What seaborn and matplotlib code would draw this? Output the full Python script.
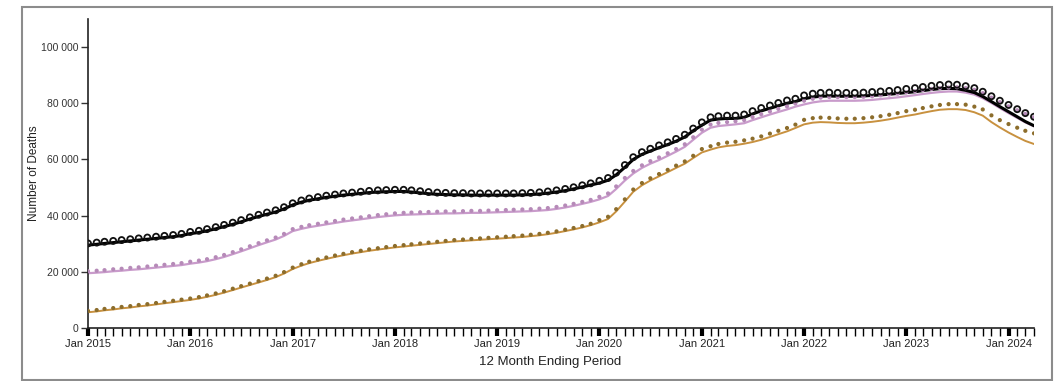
import pandas as pd
import numpy as np
import matplotlib
matplotlib.use('Agg')
import matplotlib.pyplot as plt
import matplotlib.dates as mdates
from matplotlib.patches import Rectangle
from matplotlib.ticker import FuncFormatter
import seaborn as sns

# 12-month ending counts, in thousands, Jan 2015 .. Apr 2024
periods = pd.date_range('2015-01-01', periods=112, freq='MS')

black_reported = [
    29.5, 29.8, 30.1, 30.4, 30.7, 31.0, 31.3, 31.6, 31.9, 32.2, 32.5, 32.9,
    33.6, 34.0, 34.6, 35.3, 36.1, 36.9, 37.8, 38.8, 39.7, 40.5, 41.3, 42.4,
    43.8, 44.8, 45.5, 46.0, 46.5, 46.9, 47.3, 47.6, 47.9, 48.2, 48.4, 48.5,
    48.6, 48.6, 48.4, 48.1, 47.8, 47.6, 47.5, 47.4, 47.4, 47.3, 47.3, 47.3,
    47.3, 47.3, 47.3, 47.4, 47.5, 47.7, 48.0, 48.4, 48.9, 49.5, 50.2, 50.9,
    51.6, 52.6, 54.5, 57.2, 60.0, 61.8, 63.0, 64.2, 65.3, 66.5, 68.0, 70.2,
    72.2, 74.0, 74.4, 74.6, 74.6, 75.0, 76.2, 77.3, 78.2, 79.1, 80.0, 80.6,
    81.6, 82.2, 82.5, 82.6, 82.5, 82.5, 82.5, 82.6, 82.8, 83.0, 83.2, 83.5,
    83.8, 84.1, 84.5, 84.9, 85.2, 85.3, 85.2, 84.6, 83.8, 82.4, 80.6, 78.8,
    77.0, 75.2, 73.5, 72.0,
]
black_predicted = [
    30.1, 30.4, 30.7, 31.0, 31.3, 31.6, 31.9, 32.2, 32.5, 32.8, 33.1, 33.5,
    34.2, 34.6, 35.2, 35.9, 36.7, 37.5, 38.4, 39.4, 40.3, 41.1, 41.9, 43.0,
    44.4, 45.4, 46.1, 46.6, 47.1, 47.5, 47.9, 48.2, 48.5, 48.8, 49.0, 49.1,
    49.2, 49.2, 49.0, 48.7, 48.4, 48.2, 48.1, 48.0, 48.0, 47.9, 47.9, 47.9,
    47.9, 47.9, 47.9, 48.0, 48.1, 48.3, 48.6, 49.0, 49.5, 50.1, 50.8, 51.5,
    52.4, 53.4, 55.3, 58.0, 60.8, 62.6, 63.8, 65.0, 66.1, 67.3, 68.8, 71.0,
    73.2, 75.0, 75.4, 75.6, 75.6, 76.0, 77.2, 78.3, 79.2, 80.1, 81.0, 81.6,
    82.8, 83.4, 83.7, 83.8, 83.7, 83.7, 83.7, 83.8, 84.0, 84.2, 84.4, 84.7,
    85.1, 85.4, 85.8, 86.2, 86.5, 86.7, 86.6, 86.1, 85.4, 84.1, 82.5, 80.9,
    79.4, 77.9, 76.5, 75.2,
]
pink_reported = [
    19.5, 19.7, 19.9, 20.2, 20.4, 20.7, 20.9, 21.2, 21.5, 21.8, 22.1, 22.4,
    22.9, 23.3, 23.8, 24.5, 25.3, 26.3, 27.3, 28.4, 29.5, 30.5, 31.5, 32.8,
    34.5, 35.3, 35.9, 36.4, 36.9, 37.4, 37.9, 38.3, 38.7, 39.1, 39.5, 39.8,
    40.1, 40.3, 40.4, 40.5, 40.6, 40.7, 40.8, 40.8, 40.9, 41.0, 41.0, 41.1,
    41.2, 41.3, 41.4, 41.5, 41.6, 41.8, 42.0, 42.4, 42.9, 43.5, 44.2, 44.9,
    45.8, 47.0, 49.5, 52.5, 55.0, 57.0, 58.5, 59.8, 61.3, 62.8, 64.5, 67.0,
    69.5, 71.3, 71.9, 72.2, 72.5, 72.9, 74.0, 75.0, 76.0, 76.9, 77.8, 78.8,
    79.6, 80.3, 80.7, 80.9, 80.9, 80.9, 80.9, 81.0, 81.2, 81.5, 81.8, 82.1,
    82.5, 82.9, 83.3, 83.7, 84.0, 84.2, 84.2, 83.8, 83.1, 81.8, 80.1, 78.3,
    76.5, 74.8, 73.2, 71.8,
]
pink_predicted = [
    20.2, 20.4, 20.6, 20.9, 21.1, 21.4, 21.6, 21.9, 22.2, 22.5, 22.8, 23.1,
    23.6, 24.0, 24.5, 25.2, 26.0, 27.0, 28.0, 29.1, 30.2, 31.2, 32.2, 33.5,
    35.2, 36.0, 36.6, 37.1, 37.6, 38.1, 38.6, 39.0, 39.4, 39.8, 40.2, 40.5,
    40.8, 41.0, 41.1, 41.2, 41.3, 41.4, 41.5, 41.5, 41.6, 41.7, 41.7, 41.8,
    41.9, 42.0, 42.1, 42.2, 42.3, 42.5, 42.7, 43.1, 43.6, 44.2, 44.9, 45.6,
    46.7, 47.9, 50.4, 53.4, 55.9, 57.9, 59.4, 60.7, 62.2, 63.7, 65.4, 67.9,
    70.6, 72.4, 73.0, 73.3, 73.6, 74.0, 75.1, 76.1, 77.1, 78.0, 78.9, 79.9,
    80.9, 81.6, 82.0, 82.2, 82.2, 82.2, 82.2, 82.3, 82.5, 82.8, 83.1, 83.4,
    83.9, 84.3, 84.7, 85.1, 85.4, 85.6, 85.7, 85.4, 84.8, 83.6, 82.0, 80.4,
    78.9, 77.5, 76.2, 75.0,
]
brown_reported = [
    5.6, 5.9, 6.3, 6.6, 7.0, 7.3, 7.7, 8.0, 8.4, 8.8, 9.2, 9.6,
    10.0, 10.5, 11.1, 11.8, 12.6, 13.5, 14.4, 15.3, 16.2, 17.1, 18.1, 19.4,
    21.0, 22.2, 23.1, 23.9, 24.6, 25.3, 25.9, 26.5, 27.0, 27.5, 27.9, 28.3,
    28.7, 29.0, 29.3, 29.6, 29.9, 30.2, 30.5, 30.8, 31.0, 31.2, 31.4, 31.6,
    31.8, 32.0, 32.2, 32.4, 32.7, 33.0, 33.4, 33.9, 34.5, 35.1, 35.8, 36.6,
    37.6, 38.8, 41.5, 45.0, 48.5, 50.8, 52.5, 54.0, 55.5, 57.0, 58.5, 60.5,
    62.5, 63.5, 64.3, 64.8, 65.1, 65.6, 66.2, 67.0, 68.0, 69.0, 70.0, 71.2,
    72.5, 73.1, 73.3, 73.2, 73.0, 72.9, 72.9, 73.1, 73.4, 73.8, 74.3, 74.9,
    75.5, 76.0, 76.6, 77.2, 77.7, 77.9, 77.9, 77.6, 76.8, 75.6, 73.3, 71.4,
    69.6, 68.0, 66.6, 65.5,
]
brown_predicted = [
    6.1, 6.4, 6.8, 7.1, 7.5, 7.8, 8.2, 8.5, 8.9, 9.3, 9.7, 10.1,
    10.5, 11.0, 11.6, 12.3, 13.1, 14.0, 14.9, 15.8, 16.7, 17.6, 18.6, 19.9,
    21.5, 22.7, 23.6, 24.4, 25.1, 25.8, 26.4, 27.0, 27.5, 28.0, 28.4, 28.8,
    29.2, 29.5, 29.8, 30.1, 30.4, 30.7, 31.0, 31.3, 31.5, 31.7, 31.9, 32.1,
    32.3, 32.5, 32.7, 32.9, 33.2, 33.5, 33.9, 34.4, 35.0, 35.6, 36.3, 37.1,
    38.4, 39.6, 42.3, 45.8, 49.3, 51.6, 53.3, 54.8, 56.3, 57.8, 59.3, 61.3,
    63.7, 64.7, 65.5, 66.0, 66.3, 66.8, 67.4, 68.2, 69.2, 70.2, 71.2, 72.4,
    74.1, 74.7, 74.9, 74.8, 74.6, 74.5, 74.5, 74.7, 75.0, 75.4, 75.9, 76.5,
    77.2, 77.7, 78.3, 78.9, 79.4, 79.7, 79.7, 79.5, 78.8, 77.8, 75.7, 74.0,
    72.6, 71.3, 70.2, 69.3,
]

y_ticks = [0, 20000, 40000, 60000, 80000, 100000]

# long table for seaborn
rows = []
for name, rep, pred in [('brown', brown_reported, brown_predicted),
                        ('pink', pink_reported, pink_predicted),
                        ('black', black_reported, black_predicted)]:
    rows.append(pd.DataFrame({'period': periods, 'deaths': np.array(rep) * 1000,
                              'series': name, 'kind': 'reported'}))
    rows.append(pd.DataFrame({'period': periods, 'deaths': np.array(pred) * 1000,
                              'series': name, 'kind': 'predicted'}))
df = pd.concat(rows, ignore_index=True)

sns.set_theme(style='ticks')
plt.rcParams['font.family'] = ['Liberation Sans', 'DejaVu Sans']

fig = plt.figure(figsize=(10.61, 3.81), dpi=100)
ax = fig.add_axes([88 / 1061, 1 - 328 / 381, 946 / 1061, 309 / 381])

line_style = {
    'brown': dict(color='#c8913f', lw=1.4),
    'pink': dict(color='#c99bcb', lw=1.6),
    'black': dict(color='#000000', lw=2.2),
}
marker_style = {
    'brown': dict(marker='o', s=9, color='#8c6d2c', edgecolor='none'),
    'pink': dict(marker='o', s=9, color='#b68ab8', edgecolor='none'),
    'black': dict(marker='o', s=19, facecolor='none', edgecolor='#111111', linewidth=1.3),
}

for name in ['brown', 'pink', 'black']:
    sub = df[(df['series'] == name) & (df['kind'] == 'reported')]
    sns.lineplot(data=sub, x='period', y='deaths', ax=ax, legend=False,
                 color=line_style[name]['color'], linewidth=line_style[name]['lw'])
    sub = df[(df['series'] == name) & (df['kind'] == 'predicted')]
    sns.scatterplot(data=sub, x='period', y='deaths', ax=ax, legend=False,
                    zorder=3, **marker_style[name])

ax.set_xlim(periods[0], periods[-1])
ax.set_ylim(0, 110000)
ax.set_yticks(y_ticks)
ax.yaxis.set_major_formatter(FuncFormatter(lambda v, p: f"{int(v):,}".replace(',', ' ')))

ax.xaxis.set_major_locator(mdates.YearLocator(month=1))
ax.xaxis.set_major_formatter(mdates.DateFormatter('%b %Y'))
ax.xaxis.set_minor_locator(mdates.MonthLocator())

ax.tick_params(axis='x', which='major', length=6, width=3, color='black',
               labelsize=8, pad=2, labelcolor='#222222')
ax.tick_params(axis='x', which='minor', length=6, width=1, color='black')
ax.tick_params(axis='y', length=5, width=1, color='#333333', labelsize=7.5,
               labelcolor='#333333', pad=2)

sns.despine(ax=ax)
for sp in ['left', 'bottom']:
    ax.spines[sp].set_color('#222222')
    ax.spines[sp].set_linewidth(1.2)

ax.set_xlabel('12 Month Ending Period', fontsize=9.5, color='#222222')
ax.set_ylabel('Number of Deaths', fontsize=8.5, color='#222222')
ax.xaxis.set_label_coords(0.488, -0.09)
ax.yaxis.set_label_coords(-0.051, 0.5)

# outer panel frame
fig.patches.append(Rectangle((22 / 1061, 1 / 381), 1030 / 1061, 373 / 381,
                             transform=fig.transFigure, fill=False,
                             edgecolor='#8c8c8c', linewidth=1.5))

fig.savefig('out.png', dpi=100)
